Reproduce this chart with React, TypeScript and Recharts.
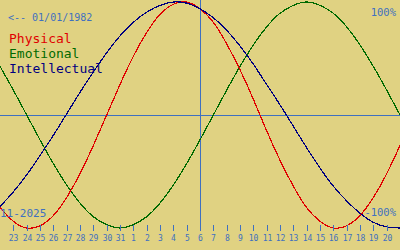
import React from 'react';
import { LineChart, Line, XAxis, YAxis, ReferenceLine } from 'recharts';

// day labels under the ticks (23 Oct .. 20 Nov)
const DAY_LABELS = [
    '23', '24', '25', '26', '27', '28', '29', '30', '31',
    '1', '2', '3', '4', '5', '6', '7', '8', '9', '10',
    '11', '12', '13', '14', '15', '16', '17', '18', '19', '20',
];

// one value per day, from the day before 23 to the day after 20 (in %)
const PHYSICAL = [-82, -94, -100, -98, -89, -73, -52, -27, 0, 27, 52, 73, 89, 98, 100, 94, 82, 63, 40, 14, -14, -40, -63, -82, -94, -100, -98, -89, -73, -52, -27];
const EMOTIONAL = [43, 22, 0, -22, -43, -62, -78, -90, -97, -100, -97, -90, -78, -62, -43, -22, 0, 22, 43, 62, 78, 90, 97, 100, 97, 90, 78, 62, 43, 22, 0];
const INTELLECTUAL = [-81, -68, -53, -36, -18, 1, 20, 38, 55, 70, 82, 91, 97, 100, 99, 94, 86, 75, 61, 45, 27, 9, -10, -29, -47, -63, -76, -87, -95, -99, -100];

const TODAY = 14; // position of day 6

const BG = '#e0d282';
const BLUE = '#3f70c0';
const RED = '#e00000';
const GREEN = '#006a00';
const NAVY = '#000080';
const MONO = '"DejaVu Sans Mono", monospace';

const rows = PHYSICAL.map((v, k) => ({
    t: k - 1,
    physical: v,
    emotional: EMOTIONAL[k],
    intellectual: INTELLECTUAL[k],
}));
const tickPos = DAY_LABELS.map((_, i) => i);

const DayTick = (props: any) => {
    const { x, y, payload } = props;
    const px = Math.round(x) + 0.5;
    return (
        <g>
            <line x1={px} x2={px} y1={y - 3} y2={y + 3} stroke={BLUE} shapeRendering="crispEdges" />
            <text x={px} y={y + 13} textAnchor="middle" fill={BLUE} fontFamily={MONO} fontSize={8}>
                {DAY_LABELS[payload.value]}
            </text>
        </g>
    );
};

export default function App() {
    return (
        <div style={{ position: 'absolute', left: 0, top: 0, width: 400, height: 250, background: BG, overflow: 'hidden' }}>
            <LineChart width={400} height={250} data={rows} margin={{ top: 2, right: 0, bottom: 0, left: 0 }}>
                <XAxis
                    dataKey="t"
                    type="number"
                    domain={[-1, 29]}
                    ticks={tickPos}
                    interval={0}
                    height={22}
                    tickSize={0}
                    tickMargin={0}
                    axisLine={false}
                    tickLine={false}
                    tick={<DayTick />}
                />
                <YAxis hide domain={[-100, 100]} />
                <ReferenceLine y={0} stroke={BLUE} shapeRendering="crispEdges" />
                <ReferenceLine
                    segment={[{ x: TODAY, y: 102 }, { x: TODAY, y: -102 }]}
                    ifOverflow="visible"
                    stroke={BLUE}
                    shapeRendering="crispEdges"
                />
                {/* aliased strokes, like the original pixel drawing */}
                <Line type="natural" dataKey="emotional" stroke={GREEN} strokeWidth={1.2} dot={false} shapeRendering="crispEdges" isAnimationActive={false} />
                <Line type="natural" dataKey="physical" stroke={RED} strokeWidth={1.2} dot={false} shapeRendering="crispEdges" isAnimationActive={false} />
                <Line type="natural" dataKey="intellectual" stroke={NAVY} strokeWidth={1.2} dot={false} shapeRendering="crispEdges" isAnimationActive={false} />
            </LineChart>
            <svg width={400} height={250} style={{ position: 'absolute', left: 0, top: 0, pointerEvents: 'none' }}>
                <text x={8} y={21} fill={BLUE} fontFamily={MONO} fontSize={10}>{'<-- 01/01/1982'}</text>
                <text x={9} y={43} fill={RED} fontFamily={MONO} fontSize={13}>Physical</text>
                <text x={9} y={58} fill={GREEN} fontFamily={MONO} fontSize={13}>Emotional</text>
                <text x={9} y={73} fill={NAVY} fontFamily={MONO} fontSize={13}>Intellectual</text>
                <text x={396} y={16} textAnchor="end" fill={BLUE} fontFamily={MONO} fontSize={10.5}>100%</text>
                <text x={396} y={216} textAnchor="end" fill={BLUE} fontFamily={MONO} fontSize={10.5}>-100%</text>
                <text x={0} y={216.5} fill={BLUE} fontFamily={MONO} fontSize={11}>11-2025</text>
            </svg>
        </div>
    );
}
